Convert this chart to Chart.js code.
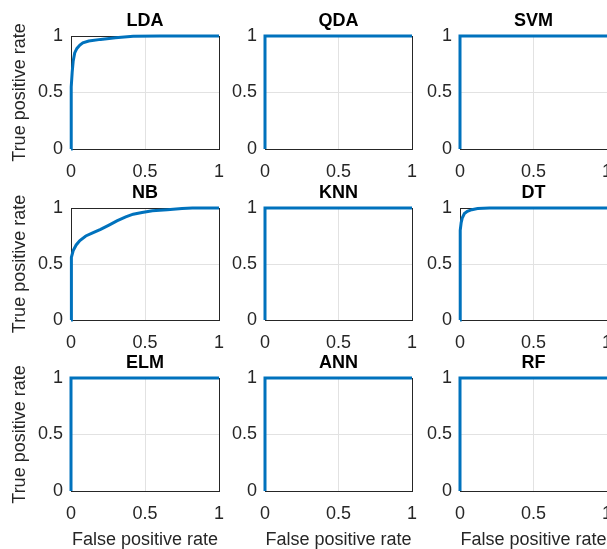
<!DOCTYPE html>
<html>
<head>
<meta charset="utf-8">
<title>ROC curves</title>
<script src="https://cdn.jsdelivr.net/npm/chart.js@4/dist/chart.umd.min.js"></script>
<style>
  html, body { margin: 0; padding: 0; background: #fff; width: 607px; height: 549px; overflow: hidden; }
  canvas { position: absolute; }
</style>
</head>
<body>
<script>
// ROC curves of nine classifiers: false positive rate (x) vs true positive rate (y)
const classifiers = ['LDA', 'QDA', 'SVM', 'NB', 'KNN', 'DT', 'ELM', 'ANN', 'RF'];

const ldaFpr = [0, 0, 0.003, 0.008, 0.015, 0.025, 0.04, 0.06, 0.08, 0.12, 0.2, 0.3, 0.42, 0.6, 1];
const ldaTpr = [0, 0.3, 0.55, 0.68, 0.78, 0.85, 0.89, 0.92, 0.94, 0.955, 0.97, 0.985, 0.998, 1, 1];

const qdaFpr = [0, 0, 1];
const qdaTpr = [0, 1, 1];

const svmFpr = [0, 0, 1];
const svmTpr = [0, 1, 1];

const nbFpr = [0, 0, 0.002, 0.006, 0.015, 0.035, 0.06, 0.1, 0.15, 0.2, 0.26, 0.31, 0.37, 0.42, 0.48, 0.55, 0.65, 0.75, 0.82, 1];
const nbTpr = [0, 0.3, 0.5, 0.56, 0.62, 0.67, 0.71, 0.75, 0.78, 0.81, 0.85, 0.885, 0.92, 0.945, 0.96, 0.975, 0.985, 0.995, 1, 1];

const knnFpr = [0, 0, 1];
const knnTpr = [0, 1, 1];

const dtFpr = [0, 0, 0.003, 0.008, 0.015, 0.03, 0.05, 0.08, 0.12, 0.2, 1];
const dtTpr = [0, 0.5, 0.8, 0.87, 0.91, 0.95, 0.97, 0.985, 0.995, 1, 1];

const elmFpr = [0, 0, 1];
const elmTpr = [0, 1, 1];

const annFpr = [0, 0, 1];
const annTpr = [0, 1, 1];

const rfFpr = [0, 0, 1];
const rfTpr = [0, 1, 1];

const tickValues = [0, 0.5, 1];
const tickLabels = ['0', '0.5', '1'];
const xAxisTitle = 'False positive rate';
const yAxisTitle = 'True positive rate';

const curves = [
  [ldaFpr, ldaTpr], [qdaFpr, qdaTpr], [svmFpr, svmTpr],
  [nbFpr, nbTpr], [knnFpr, knnTpr], [dtFpr, dtTpr],
  [elmFpr, elmTpr], [annFpr, annTpr], [rfFpr, rfTpr]
];

// subplot grid geometry (plot area of each panel, in page pixels)
const colLeft = [71, 265, 460];
const colWidth = [148, 147, 147];
const rowTop = [36, 208, 378];
const rowHeight = [113, 112, 113];
const AXIS_W = 71;   // room for y tick labels and y title
const TITLE_H = 36;  // room for panel title
const AXIS_H = 58;   // room for x tick labels and x title
const PAD_R = 20;

const FONT = "'Liberation Sans', Arial, Helvetica, sans-serif";
const TEXT = '#262626';
const LINE = '#0072BD';

// axes box drawn under the curve
const boxPlugin = {
  id: 'axesBox',
  beforeDatasetsDraw(chart) {
    const { ctx, chartArea: a } = chart;
    ctx.save();
    ctx.strokeStyle = '#262626';
    ctx.lineWidth = 1;
    ctx.strokeRect(a.left + 0.5, a.top + 0.5, a.right - a.left, a.bottom - a.top);
    ctx.restore();
  }
};

const tickCallback = (v) => {
  const k = tickValues.indexOf(v);
  return k >= 0 ? tickLabels[k] : '';
};

classifiers.forEach((name, i) => {
  const r = Math.floor(i / 3), c = i % 3;
  const canvas = document.createElement('canvas');
  const w = AXIS_W + colWidth[c] + PAD_R;
  const h = TITLE_H + rowHeight[r] + AXIS_H;
  canvas.width = w; canvas.height = h;
  canvas.style.width = w + 'px'; canvas.style.height = h + 'px';
  canvas.style.left = (colLeft[c] - AXIS_W) + 'px';
  canvas.style.top = (rowTop[r] - TITLE_H) + 'px';
  document.body.appendChild(canvas);

  const [fpr, tpr] = curves[i];
  const points = fpr.map((x, k) => ({ x: x, y: tpr[k] }));

  new Chart(canvas, {
    type: 'scatter',
    data: {
      datasets: [{
        data: points,
        showLine: true,
        borderColor: LINE,
        borderWidth: 3,
        pointRadius: 0,
        tension: 0,
        fill: false,
        clip: 4
      }]
    },
    options: {
      responsive: false,
      animation: false,
      devicePixelRatio: 1,
      layout: { padding: { left: 0, top: 0, bottom: 0, right: PAD_R } },
      plugins: {
        legend: { display: false },
        tooltip: { enabled: false },
        title: {
          display: true,
          text: name,
          fullSize: false,
          color: '#000',
          font: { family: FONT, size: 18, weight: 'bold', lineHeight: 1.2 },
          padding: { top: 10.2, bottom: 4.2 }
        }
      },
      scales: {
        x: {
          type: 'linear',
          position: 'bottom',
          min: 0, max: 1,
          afterBuildTicks: (s) => { s.ticks = tickValues.map(v => ({ value: v })); },
          afterFit: (s) => { s.height = AXIS_H; },
          ticks: {
            callback: tickCallback,
            color: TEXT,
            font: { family: FONT, size: 18, lineHeight: 1.2 },
            padding: 12,
            maxRotation: 0,
            autoSkip: false
          },
          grid: { color: '#e2e2e2', lineWidth: 1, drawTicks: false },
          border: { display: false },
          title: {
            display: r === 2,
            text: xAxisTitle,
            color: TEXT,
            font: { family: FONT, size: 18, lineHeight: 1.2 },
            padding: { top: 0, bottom: -2 }
          }
        },
        y: {
          type: 'linear',
          position: 'left',
          min: 0, max: 1,
          afterBuildTicks: (s) => { s.ticks = tickValues.map(v => ({ value: v })); },
          afterFit: (s) => { s.width = AXIS_W; },
          ticks: {
            callback: tickCallback,
            color: TEXT,
            font: { family: FONT, size: 18, lineHeight: 1.2 },
            padding: 8,
            autoSkip: false
          },
          grid: { color: '#e2e2e2', lineWidth: 1, drawTicks: false },
          border: { display: false },
          title: {
            display: c === 0,
            text: yAxisTitle,
            color: TEXT,
            font: { family: FONT, size: 18, lineHeight: 1.2 },
            padding: { top: 9, bottom: 0 }
          }
        }
      }
    },
    plugins: [boxPlugin]
  });
});
</script>
</body>
</html>
